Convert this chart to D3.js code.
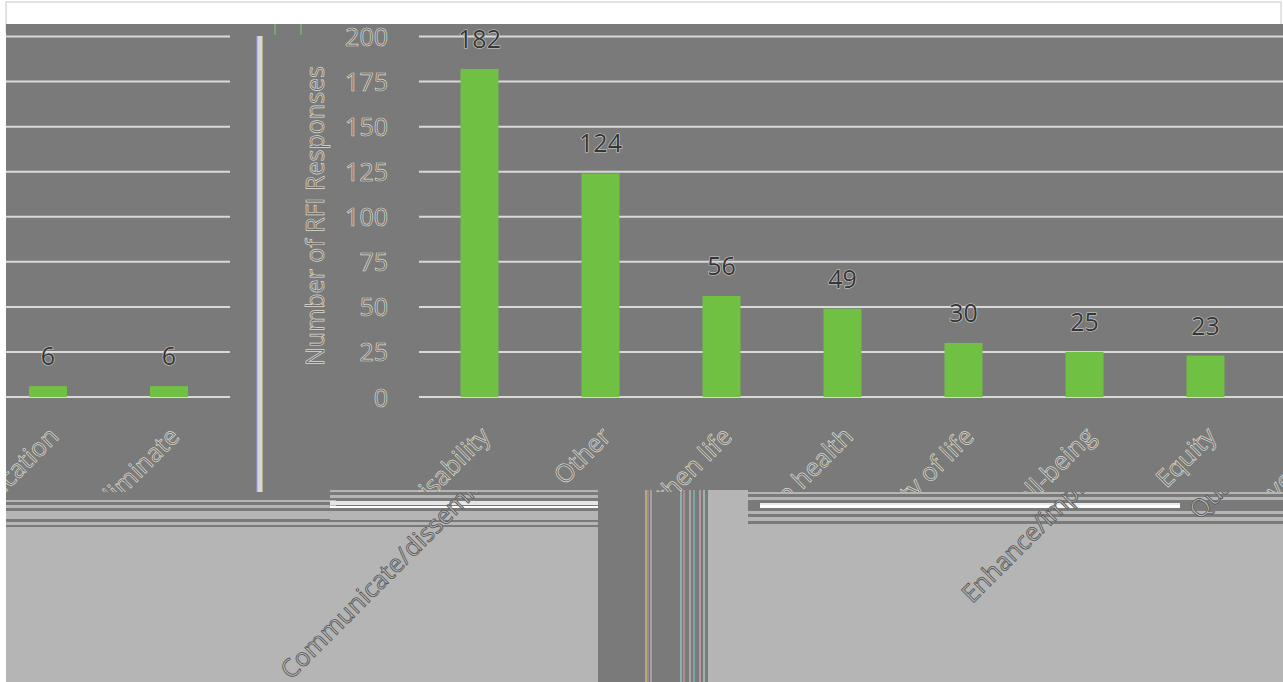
<!DOCTYPE html>
<html>
<head>
<meta charset="utf-8">
<script src="https://cdn.jsdelivr.net/npm/d3@7"></script>
<style>
  html, body { margin: 0; padding: 0; background: #fff; }
  svg { display: block; }
  .emboss { font-family: "Open Sans", sans-serif; font-size: 25px; fill: #6c6c6c; stroke: #dcdcd0; stroke-width: 0.7; }
  .value { font-family: "Open Sans", sans-serif; font-size: 25px; fill: #363636; stroke: #d0d0d0; stroke-width: 1.2; paint-order: stroke; }
  .low { font-family: "Open Sans", sans-serif; font-size: 25px; fill: #b8b8b8; stroke: #555; stroke-width: 0.8; }
</style>
</head>
<body>
<script>
"use strict";

// right panel (main chart)
var categories = ["Communicate", "Other", "Lengthen life", "Improve health", "Improve quality of life",
  "Well-being", "Equity", "Quality improvement"];
var topLabels = ["Transparency/visability", "Other", "Lengthen life", "Improve health", "Improve quality of life",
  "Length of life/well-being", "Equity", "Quality improvement"];
var lowLabels = ["Communicate/disseminate", "", "", "", "", "Enhance/improve", "", "Quality improvement"];
var values = [182, 124, 56, 49, 30, 25, 23];

// left panel (tail of the same chart)
var leftCategories = ["Education", "Eliminate"];
var leftValues = [6, 6];

var yTicks = [0, 25, 50, 75, 100, 125, 150, 175, 200];

var W = 1283, H = 682;
var bg = "#7a7a7a", light = "#b5b5b5", grid = "#d9d9d9", green = "#70c143";

var svg = d3.select("body").append("svg").attr("width", W).attr("height", H);

var y = d3.scaleLinear().domain([0, 200]).range([397, 36.5]);

var x = d3.scaleBand().domain(categories).range([419, 419 + 121 * categories.length])
  .paddingInner(0.686).paddingOuter(0.343);
var xl = d3.scaleBand().domain(leftCategories).range([-12.5, -12.5 + 121 * leftCategories.length])
  .paddingInner(0.686).paddingOuter(0.343);

var defs = svg.append("defs");
defs.append("clipPath").attr("id", "clipTop").append("rect")
  .attr("x", 6).attr("y", 24).attr("width", W).attr("height", 468);
var lowClip = defs.append("clipPath").attr("id", "clipLow");
lowClip.append("rect").attr("x", 6).attr("y", 492).attr("width", 592).attr("height", 190);
lowClip.append("rect").attr("x", 708).attr("y", 492).attr("width", 575).attr("height", 190);

//---frame---
svg.append("rect").attr("x", 6).attr("y", 2).attr("width", 1275).attr("height", 30)
  .attr("fill", "#fff").attr("stroke", "#dadada").attr("stroke-width", 1.5);
svg.append("rect").attr("x", 6).attr("y", 24).attr("width", W - 6).attr("height", H - 24).attr("fill", bg);

//---glitch bands at the bottom---
svg.append("rect").attr("x", 6).attr("y", 527).attr("width", 592).attr("height", 155).attr("fill", light);
svg.append("rect").attr("x", 708).attr("y", 524).attr("width", 575).attr("height", 158).attr("fill", light);
svg.append("rect").attr("x", 708).attr("y", 490).attr("width", 40).attr("height", 40).attr("fill", light);

var stripes = [
  [6, 500, 330, 2, light], [6, 505, 330, 3, light], [6, 511, 330, 8, light], [6, 522, 330, 3, light],
  [330, 490, 268, 2, light], [330, 495, 268, 3, light], [330, 501, 268, 4, "#e6e6e6"], [330, 506, 268, 2, "#fff"],
  [330, 511, 268, 9, light], [330, 522, 268, 3, light],
  [748, 492, 535, 2, light], [748, 497, 535, 3, light], [760, 503, 420, 2, "#e8e8e8"], [760, 505, 420, 3, "#fff"],
  [748, 511, 535, 3, light], [748, 517, 535, 4, light]
];
svg.append("g").selectAll("rect").data(stripes).join("rect")
  .attr("x", function (d) { return d[0]; }).attr("y", function (d) { return d[1]; })
  .attr("width", function (d) { return d[2]; }).attr("height", function (d) { return d[3]; })
  .attr("fill", function (d) { return d[4]; });

var vlines = [[646, "#e8e070"], [648, "#d090a0"], [651, "#c8c8c8"], [681, "#a0e0e0"], [684, "#e0a0b0"],
  [690, "#d0d0d0"], [694, "#7ed0d0"], [700, "#e0c0c8"], [704, "#c0e8e8"]];
svg.append("g").selectAll("line").data(vlines).join("line")
  .attr("x1", function (d) { return d[0]; }).attr("x2", function (d) { return d[0]; })
  .attr("y1", 490).attr("y2", H).attr("stroke", function (d) { return d[1]; }).attr("stroke-width", 1);

//---gridlines---
svg.append("g").selectAll("line").data(yTicks).join("line")
  .attr("x1", 6).attr("x2", 230)
  .attr("y1", function (d) { return y(d); }).attr("y2", function (d) { return y(d); })
  .attr("stroke", grid).attr("stroke-width", 2);
svg.append("g").selectAll("line").data(yTicks).join("line")
  .attr("x1", 419).attr("x2", W)
  .attr("y1", function (d) { return y(d); }).attr("y2", function (d) { return y(d); })
  .attr("stroke", grid).attr("stroke-width", 2);

// separator
svg.append("rect").attr("x", 257).attr("y", 36).attr("width", 5).attr("height", 456).attr("fill", "#d6d6d6");
svg.append("line").attr("x1", 257).attr("x2", 257).attr("y1", 36).attr("y2", 492).attr("stroke", "#9a9aff");
svg.append("line").attr("x1", 262).attr("x2", 262).attr("y1", 36).attr("y2", 492).attr("stroke", "#e8e49a");
svg.append("line").attr("x1", 275).attr("x2", 275).attr("y1", 24).attr("y2", 35).attr("stroke", "#6fd06f");
svg.append("line").attr("x1", 301).attr("x2", 301).attr("y1", 24).attr("y2", 35).attr("stroke", "#6fd06f");

//---y axis---
var yAxis = svg.append("g").attr("transform", "translate(388,0)")
  .call(d3.axisLeft(y).tickValues(yTicks).tickSize(0).tickPadding(0));
yAxis.select(".domain").remove();
yAxis.selectAll("text").attr("class", "emboss").attr("font-family", null).attr("font-size", null)
  .attr("fill", null).attr("dy", "0.36em");

svg.append("text").attr("class", "emboss")
  .attr("transform", "translate(324,216) rotate(-90)")
  .attr("text-anchor", "middle")
  .text("Number of RFI Responses");

//---bars---
svg.append("g").selectAll("rect").data(values).join("rect")
  .attr("x", function (d, i) { return x(categories[i]); })
  .attr("y", function (d) { return y(d); })
  .attr("width", x.bandwidth())
  .attr("height", function (d) { return y(0) - y(d); })
  .attr("fill", green);
svg.append("g").selectAll("text").data(values).join("text")
  .attr("class", "value")
  .attr("x", function (d, i) { return x(categories[i]) + x.bandwidth() / 2; })
  .attr("y", function (d) { return y(d) - 21; })
  .attr("text-anchor", "middle")
  .text(function (d) { return d; });

svg.append("g").selectAll("rect").data(leftValues).join("rect")
  .attr("x", function (d, i) { return xl(leftCategories[i]); })
  .attr("y", function (d) { return y(d); })
  .attr("width", xl.bandwidth())
  .attr("height", function (d) { return y(0) - y(d); })
  .attr("fill", green);
svg.append("g").selectAll("text").data(leftValues).join("text")
  .attr("class", "value")
  .attr("x", function (d, i) { return xl(leftCategories[i]) + xl.bandwidth() / 2; })
  .attr("y", function (d) { return y(d) - 21; })
  .attr("text-anchor", "middle")
  .text(function (d) { return d; });

//---category labels---
// low labels are the displaced copy seen through the glitch band
var lowShift = [[21, 21], null, null, null, null, [21, 21], null, [36, -92]];

function labelPos(scale, c, dx, dy) {
  var cx = scale(c) + scale.bandwidth() / 2 + 12 + dx;
  var cy = 438 + dy;
  return "translate(" + cx + "," + cy + ") rotate(-45)";
}

var upper = svg.append("g").attr("clip-path", "url(#clipTop)");
upper.selectAll("text.r").data(categories).join("text")
  .attr("class", "emboss r")
  .attr("transform", function (d) { return labelPos(x, d, 0, 0); })
  .attr("text-anchor", "end")
  .text(function (d, i) { return topLabels[i]; });
upper.selectAll("text.l").data(leftCategories).join("text")
  .attr("class", "emboss l")
  .attr("transform", function (d) { return labelPos(xl, d, 0, 0); })
  .attr("text-anchor", "end")
  .text(function (d) { return d; });

var lower = svg.append("g").attr("clip-path", "url(#clipLow)");
lower.selectAll("text").data(categories.filter(function (d, i) { return lowLabels[i]; })).join("text")
  .attr("class", "low")
  .attr("transform", function (d) {
    var s = lowShift[categories.indexOf(d)];
    return labelPos(x, d, s[0], s[1]);
  })
  .attr("text-anchor", "end")
  .text(function (d) { return lowLabels[categories.indexOf(d)]; });
</script>
</body>
</html>
